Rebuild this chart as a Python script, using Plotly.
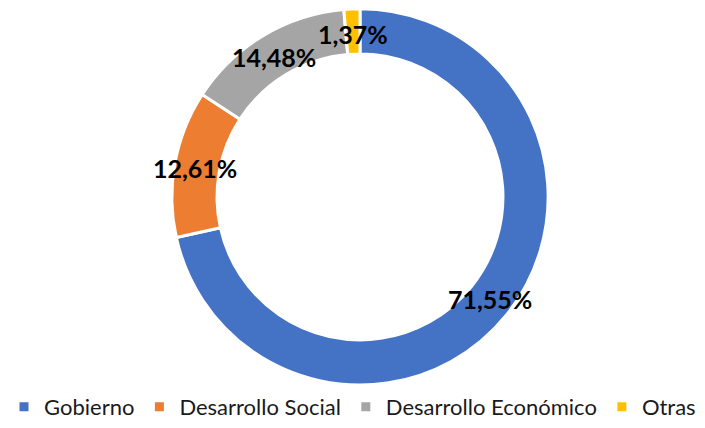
import math
import plotly.graph_objects as go

categories = ["Gobierno", "Desarrollo Social", "Desarrollo Económico", "Otras"]
values = [71.55, 12.61, 14.48, 1.37]
colors = ["#4472C4", "#ED7D31", "#A5A5A5", "#FFC000"]

W, H = 705, 428
MB = 32                      # bottom margin reserved for the legend
PH = H - MB                  # plot-area height
CX, CY, R_OUT = 360, 202, 190
R_DOM = 193                  # plotly draws the pie slightly inside its domain
HOLE = 0.76

fig = go.Figure(go.Pie(
    labels=categories,
    values=values,
    sort=False,
    direction="clockwise",
    rotation=0,
    hole=HOLE,
    marker=dict(colors=colors, line=dict(color="white", width=3)),
    textinfo="none",
    domain=dict(x=[(CX - R_DOM) / W, (CX + R_DOM) / W],
                y=[max(0.0, 1 - (CY + R_DOM) / PH), 1 - (CY - R_DOM) / PH]),
    hoverinfo="skip",
))

# data labels at the middle of each ring segment
total = sum(values)
r_mid = R_OUT * (1 + HOLE) / 2
cum = 0.0
annotations = []
for v in values:
    mid = (cum + v / 2) / total * 2 * math.pi
    cum += v
    px = CX + r_mid * math.sin(mid)
    py = CY - r_mid * math.cos(mid)
    annotations.append(dict(
        x=px / W, y=1 - py / PH, xref="paper", yref="paper",
        text=f"{v:.2f}%".replace(".", ","), showarrow=False,
        font=dict(family="Lato", size=25, color="black", weight="bold"),
        xanchor="center", yanchor="middle",
    ))

fig.update_layout(
    width=W, height=H,
    margin=dict(l=0, r=0, t=0, b=MB, pad=0),
    separators=",.",
    paper_bgcolor="white",
    showlegend=True,
    annotations=annotations,
    legend=dict(orientation="h", x=0.5, xanchor="center",
                y=-0.01, yanchor="bottom", yref="container",
                font=dict(family="Lato", size=22, color="#1a1a1a"),
                itemclick=False, traceorder="normal"),
)

fig.write_html("out.html", config=dict(displayModeBar=False),
               post_script="document.body.style.margin='0';document.body.style.overflow='hidden';")
